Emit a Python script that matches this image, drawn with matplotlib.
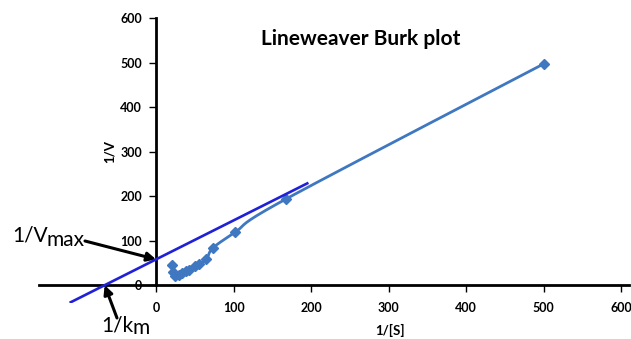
import numpy as np
import matplotlib.pyplot as plt

# Lineweaver-Burk data: 1/[S] and 1/V
inv_s = [20, 22, 25, 29, 33, 38, 43, 50, 55, 65, 73, 102, 167, 500]
inv_v = [45, 30, 20, 24, 27, 31, 35, 42, 48, 58, 83, 119, 193, 497]

# hand-drawn extrapolation line
trend_slope = 0.875
trend_intercept = 58
trend_x = [-110, 195]

x_ticks = [0, 100, 200, 300, 400, 500, 600]
y_ticks = [0, 100, 200, 300, 400, 500, 600]

data_color = "#3f78c0"
trend_color = "#2020d8"


def smooth(xs, ys, n=20):
    # Catmull-Rom curve through the points, like Excel's smoothed line
    p = np.column_stack([xs, ys]).astype(float)
    p = np.vstack([p[0], p, p[-1]])
    out = []
    for i in range(1, len(p) - 2):
        p0, p1, p2, p3 = p[i - 1], p[i], p[i + 1], p[i + 2]
        t = np.linspace(0, 1, n)[:, None]
        seg = 0.5 * ((2 * p1) + (-p0 + p2) * t
                     + (2 * p0 - 5 * p1 + 4 * p2 - p3) * t ** 2
                     + (-p0 + 3 * p1 - 3 * p2 + p3) * t ** 3)
        out.append(seg)
    out = np.vstack(out)
    return out[:, 0], out[:, 1]


plt.rcParams["font.family"] = ["Lato", "DejaVu Sans"]
plt.rcParams["font.weight"] = "bold"

fig = plt.figure(figsize=(6.31, 3.39), dpi=100)
# 0 at x=156 px, 600 at x=621 px; 0 at y=285 px, 600 at y=18 px
ax = fig.add_axes([39 / 631, 36 / 339, 590 / 631, 285 / 339])
ax.set_xlim(-151, 610)
ax.set_ylim(-40, 600)

sx, sy = smooth(inv_s, inv_v)
ax.plot(sx, sy, color=data_color, lw=2.0, zorder=3)
ax.plot(inv_s, inv_v, ls="none", marker="D", ms=5, color=data_color, zorder=4)

tx = np.array(trend_x, dtype=float)
ax.plot(tx, trend_slope * tx + trend_intercept, color=trend_color, lw=1.9, zorder=5)

# axes through the origin
for side in ("top", "right"):
    ax.spines[side].set_visible(False)
ax.spines["left"].set_position(("data", 0))
ax.spines["bottom"].set_position(("data", 0))
ax.spines["left"].set_bounds(0, 600)
ax.spines["left"].set_linewidth(2)
ax.spines["bottom"].set_linewidth(2)
ax.spines["left"].set_zorder(1)
ax.spines["bottom"].set_zorder(1)

ax.set_xticks(x_ticks)
ax.set_yticks(y_ticks)
ax.tick_params(direction="out", length=5, width=1, labelsize=9)
ax.tick_params(axis="x", pad=7)
ax.tick_params(axis="y", pad=5)

ax.set_xlabel("1/[S]", fontsize=9.5, fontweight="bold")
ax.xaxis.set_label_coords(302, -88, transform=ax.transData)
ax.set_ylabel("1/V", fontsize=9.5, fontweight="bold")
ax.yaxis.set_label_coords(-52, 300, transform=ax.transData)

ax.text(264, 553, "Lineweaver Burk plot", fontsize=15, fontweight="bold",
        ha="center", va="center")

# intercept annotations
y0 = trend_intercept
x0 = -trend_intercept / trend_slope
arrow = dict(arrowstyle="-|>", color="black", lw=2.2, mutation_scale=13,
             shrinkA=0, shrinkB=0)
ax.annotate("", xy=(0, y0), xytext=(85, 339 - 241), textcoords="figure pixels",
            arrowprops=arrow)
ax.annotate("", xy=(x0, 0), xytext=(117, 339 - 318), textcoords="figure pixels",
            arrowprops=arrow)
lab = dict(fontsize=15, fontweight="normal", ha="left", va="baseline")
fig.text(12 / 631, 1 - 242 / 339, "1/V", **lab)
fig.text(46 / 631, 1 - 246 / 339, "max", **lab)
fig.text(101 / 631, 1 - 331 / 339, "1/k", **lab)
fig.text(133 / 631, 1 - 334 / 339, "m", **lab)

plt.savefig("out.png", dpi=100)
